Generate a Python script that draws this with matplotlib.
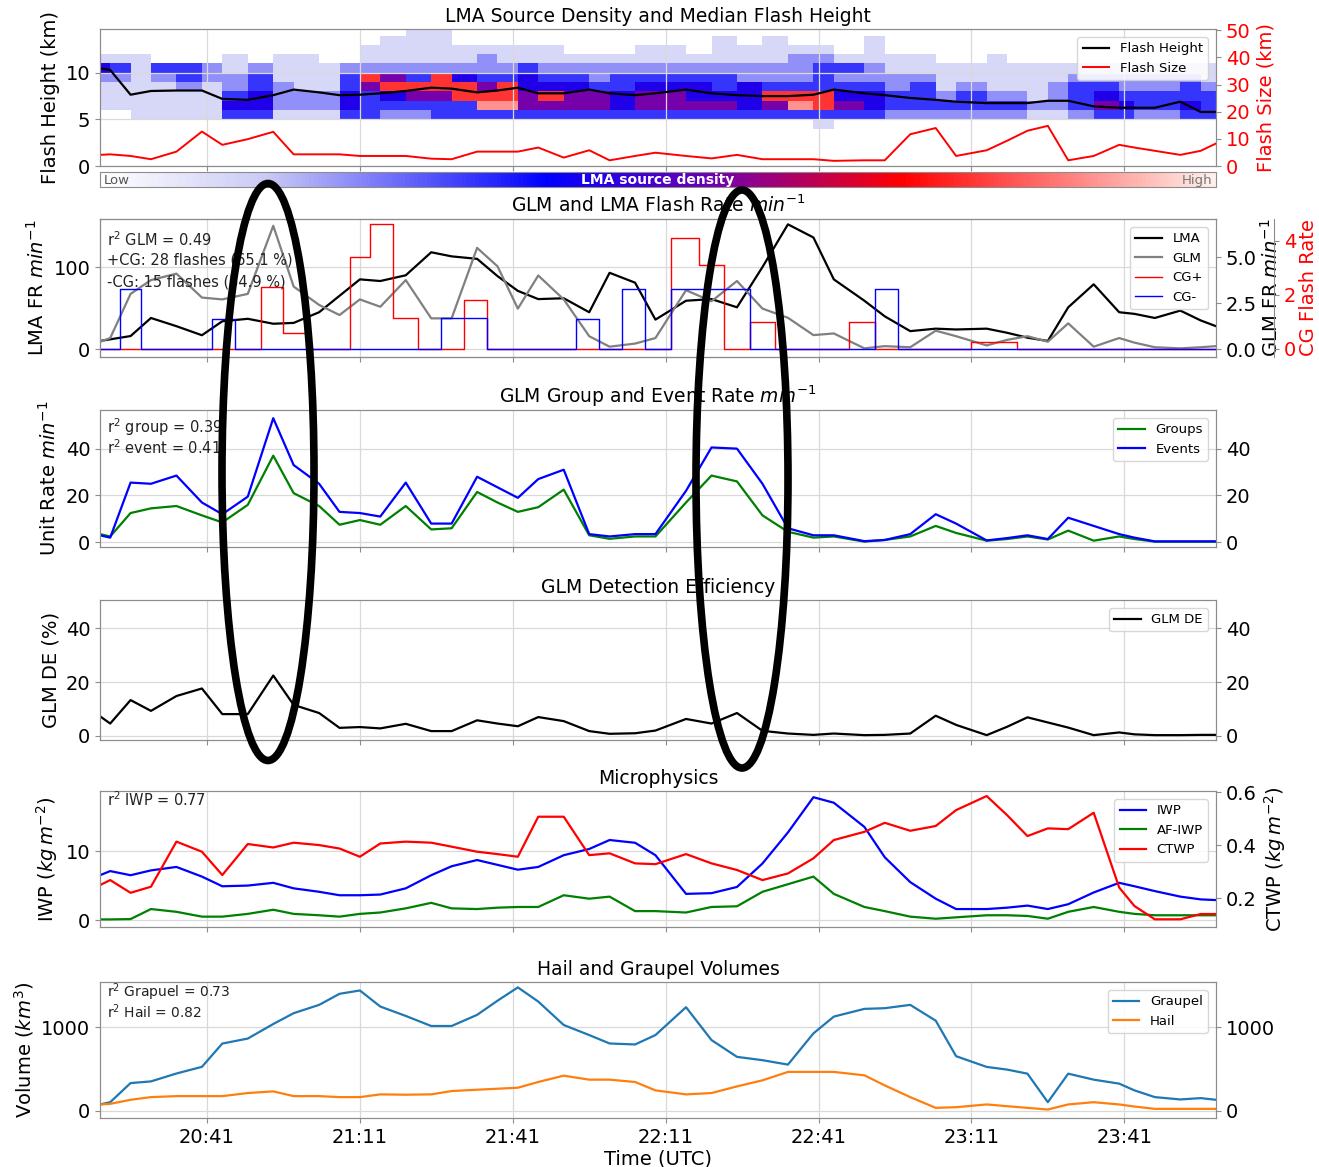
import numpy as np
import matplotlib
matplotlib.use("Agg")
import matplotlib.pyplot as plt
import matplotlib.dates as mdates
from datetime import datetime
from matplotlib.colors import LinearSegmentedColormap
from matplotlib.patches import Ellipse

# radar volume scan times (UTC)
scan_times = ["20:20", "20:22", "20:26", "20:30", "20:35", "20:40", "20:44", "20:49", "20:54", "20:58",
              "21:03", "21:07", "21:11", "21:15", "21:20", "21:25", "21:29", "21:34", "21:38", "21:42",
              "21:46", "21:51", "21:56", "22:00", "22:05", "22:09", "22:15", "22:20", "22:25", "22:30",
              "22:35", "22:40", "22:44", "22:50", "22:54", "22:59", "23:04", "23:08", "23:14", "23:18",
              "23:22", "23:26", "23:30", "23:35", "23:40", "23:43", "23:47", "23:52", "23:56", "23:59"]
tick_times = ["20:41", "21:11", "21:41", "22:11", "22:41", "23:11", "23:41"]

# LMA source density per 1 km layer (top row = 14-15 km), 0 = none ... 9 = highest
height_edges = [4, 5, 6, 7, 8, 9, 10, 11, 12, 13, 14, 15]
density_rows = [
    "0000000000" "0000110000" "0000000000" "0000000000" "000000000",
    "0000000000" "0001110000" "0000000101" "0001000000" "000000000",
    "0000000000" "0011111111" "1000110111" "1101000000" "000000000",
    "1110001011" "0011111211" "1111111111" "2211110010" "000000000",
    "4313321211" "1222222223" "2222222222" "2332111111" "111111111",
    "2212322311" "1375374334" "3323333322" "2322221111" "112222221",
    "1111212321" "1357777574" "4433444343" "3333231211" "123322232",
    "1111113422" "2434557775" "7554554447" "7744332322" "123433333",
    "1111114422" "2433333885" "5554555545" "8754333333" "223543343",
    "0011113311" "1332233333" "3333333333" "3333222222" "112332233",
    "0000000000" "0000000000" "0000000000" "0100000000" "000000000",
]

flash_height = [10.5, 10.3, 7.65, 8.05, 8.1, 8.1, 7.2, 7.1, 7.6, 8.2,
                7.9, 7.6, 7.65, 7.8, 8.05, 8.4, 8.3, 7.9, 8.1, 8.4,
                7.8, 7.8, 8.2, 7.8, 7.6, 7.8, 8.2, 7.8, 7.6, 7.5,
                7.5, 7.65, 8.2, 7.8, 7.6, 7.3, 7.1, 6.9, 6.75, 6.75,
                6.75, 7.0, 7.0, 6.4, 6.25, 6.25, 6.25, 6.9, 5.8, 5.8]
flash_size = [4.1, 4.3, 3.7, 2.5, 5.3, 12.7, 7.8, 9.9, 12.6, 4.3,
              4.3, 4.3, 3.7, 3.7, 3.7, 2.7, 2.5, 5.3, 5.3, 5.3,
              6.8, 3.1, 5.8, 2.1, 3.7, 4.9, 3.7, 2.8, 4.1, 2.5,
              2.5, 2.5, 1.9, 2.1, 2.1, 11.7, 14.0, 3.7, 5.8, 9.3,
              13.0, 14.8, 2.1, 3.7, 7.8, 6.8, 5.6, 4.1, 5.6, 8.3]

lma_rate = [10, 12, 16, 38, 28, 17, 34, 37, 31, 32,
            45, 65, 85, 83, 90, 118, 113, 110, 89, 71,
            61, 62, 45, 93, 81, 36, 59, 61, 51, 100,
            152, 136, 85, 59, 40, 22, 25, 24, 25, 20,
            14, 10, 51, 79, 45, 43, 38, 47, 35, 28]
glm_rate = [0.4, 0.6, 3.0, 3.75, 4.1, 2.8, 2.7, 3.0, 6.7, 3.4,
            2.4, 1.85, 2.7, 2.3, 3.75, 1.67, 1.67, 5.5, 4.5, 2.2,
            4.0, 2.7, 0.7, 0.13, 0.3, 0.6, 3.2, 2.6, 3.7, 2.2,
            1.7, 0.76, 0.85, 0.04, 0.16, 0.1, 1.0, 0.7, 0.2, 0.5,
            0.7, 0.4, 1.4, 0.13, 0.6, 0.35, 0.1, 0.04, 0.1, 0.16]
cg_pos = [0, 0, 0, 0, 0, 0, 0, 0, 2.3, 0.6,
          0, 0, 3.4, 4.6, 1.15, 0, 0, 1.8, 0, 0,
          0, 0, 0, 0, 0, 0, 4.1, 3.1, 0, 1.0,
          0, 0, 0, 1.0, 0, 0, 0, 0, 0.26, 0.26,
          0, 0, 0, 0, 0, 0, 0, 0, 0, 0]
cg_neg = [0, 0, 2.2, 0, 0, 0, 1.1, 0, 0, 0,
          0, 0, 0, 0, 0, 0, 1.15, 1.15, 0, 0,
          0, 0, 1.1, 0, 2.2, 0, 2.2, 2.2, 2.2, 0,
          0, 0, 0, 0, 2.2, 0, 0, 0, 0, 0,
          0, 0, 0, 0, 0, 0, 0, 0, 0, 0]

groups = [3.5, 2.5, 12.5, 14.5, 15.5, 11.5, 8.5, 16, 37, 21,
          15.5, 7.5, 9.5, 7.5, 15.5, 5.5, 6, 21.5, 17, 13,
          15, 22.5, 3, 1.5, 2.5, 2.5, 17, 28.5, 26, 11.5,
          4.5, 2, 2.5, 0.3, 1, 2.5, 7, 4, 0.7, 1.4,
          2.5, 1.2, 5, 0.7, 2.5, 1.4, 0.3, 0.3, 0.3, 0.3]
events = [3, 2, 25.5, 25, 28.5, 17, 12, 19.5, 53, 33,
          25, 13, 12.5, 11, 25.5, 8, 8, 28, 23.5, 19,
          27, 31, 3.5, 2.5, 3.5, 3.5, 22, 40.5, 40, 25,
          6, 3, 3, 0.5, 1, 3.5, 12, 8, 0.8, 1.8,
          3, 1.4, 10.5, 7, 3.5, 2, 0.4, 0.4, 0.4, 0.4]

glm_de = [7.3, 4.6, 13.3, 9.3, 14.8, 17.6, 8.1, 8.1, 22.4, 11.5,
          8.5, 3, 3.3, 2.8, 4.5, 1.8, 1.8, 5.8, 4.6, 3.6,
          7, 5.5, 1.8, 0.8, 1, 2, 6.3, 4.6, 8.5, 1.9,
          0.9, 0.4, 0.9, 0.3, 0.4, 0.9, 7.5, 4.1, 0.3, 3.4,
          6.9, 5, 3.1, 0.3, 1.3, 0.6, 0.3, 0.3, 0.4, 0.4]

iwp = [6.5, 7.1, 6.5, 7.2, 7.7, 6.3, 4.9, 5.0, 5.4, 4.6,
       4.1, 3.6, 3.6, 3.7, 4.6, 6.5, 7.8, 8.7, 8.0, 7.3,
       7.7, 9.4, 10.3, 11.6, 11.2, 9.4, 3.8, 3.9, 4.8, 8.2,
       12.7, 17.8, 17.0, 13.5, 9.1, 5.5, 3.1, 1.6, 1.6, 1.8,
       2.1, 1.6, 2.3, 4.0, 5.4, 4.9, 4.2, 3.4, 3.0, 2.9]
af_iwp = [0.1, 0.1, 0.15, 1.6, 1.2, 0.5, 0.5, 0.9, 1.5, 0.9,
          0.7, 0.5, 0.9, 1.1, 1.7, 2.5, 1.7, 1.6, 1.8, 1.9,
          1.9, 3.6, 3.1, 3.4, 1.3, 1.3, 1.1, 1.9, 2.0, 4.1,
          5.2, 6.3, 3.8, 1.9, 1.3, 0.5, 0.2, 0.4, 0.7, 0.7,
          0.6, 0.2, 1.2, 1.9, 1.2, 0.9, 0.7, 0.7, 0.7, 0.7]
ctwp = [0.249, 0.268, 0.22, 0.243, 0.413, 0.375, 0.287, 0.404, 0.391, 0.409,
        0.40, 0.387, 0.356, 0.406, 0.413, 0.409, 0.394, 0.375, 0.366, 0.356,
        0.507, 0.507, 0.362, 0.369, 0.331, 0.328, 0.366, 0.331, 0.306, 0.268,
        0.293, 0.35, 0.419, 0.45, 0.484, 0.454, 0.472, 0.532, 0.585, 0.513,
        0.434, 0.463, 0.46, 0.522, 0.24, 0.17, 0.12, 0.12, 0.14, 0.14]

graupel = [73, 100, 330, 350, 445, 525, 805, 865, 1040, 1170,
           1270, 1403, 1443, 1250, 1137, 1016, 1016, 1150, 1320, 1480,
           1310, 1028, 907, 806, 794, 907, 1242, 847, 645, 605,
           552, 927, 1129, 1222, 1230, 1270, 1080, 653, 524, 492,
           443, 100, 443, 371, 323, 242, 161, 133, 149, 129]
hail = [73, 80, 129, 161, 173, 173, 173, 210, 230, 173,
        173, 161, 161, 194, 190, 194, 234, 250, 262, 274,
        343, 419, 371, 371, 343, 242, 194, 210, 290, 363,
        464, 464, 464, 423, 302, 161, 32, 40, 73, 52,
        32, 12, 73, 100, 73, 48, 20, 20, 20, 20]


def to_num(hhmm):
    h, m = map(int, hhmm.split(":"))
    return mdates.date2num(datetime(2019, 5, 1, h, m))


t = np.array([to_num(s) for s in scan_times])
ticks = [to_num(s) for s in tick_times]

W, H = 1319, 1167
fig = plt.figure(figsize=(W / 100, H / 100), dpi=100)

SPINE = "#8c8c8c"
GRID = "#d9d9d9"


def panel(top, bottom, last=False):
    ax = fig.add_axes([100 / W, 1 - bottom / H, 1116 / W, (bottom - top) / H])
    ax.set_xlim(t[0], t[-1])
    ax.set_xticks(ticks)
    ax.xaxis.set_major_formatter(mdates.DateFormatter("%H:%M"))
    ax.grid(True, color=GRID, lw=0.9)
    for sp in ax.spines.values():
        sp.set_color(SPINE)
    ax.tick_params(labelsize=14, color=SPINE)
    if not last:
        ax.tick_params(labelbottom=False)
    return ax


def twin(ax):
    axr = ax.twinx()
    for sp in axr.spines.values():
        sp.set_color(SPINE)
    axr.tick_params(labelsize=14, color=SPINE)
    return axr


def legend(ax, handles):
    ax.legend(handles=handles, loc="upper right", fontsize=9.5, framealpha=0.85,
              edgecolor="#d0d0d0", borderaxespad=0.6)


def note(ax, lines, ys, size=10.5):
    for s, y in zip(lines, ys):
        ax.text(0.006, y, s, transform=ax.transAxes, fontsize=size, va="center", ha="left",
                color="#222222", zorder=6)


# --- LMA source density and median flash height
ax1 = panel(29, 166)
cmap = LinearSegmentedColormap.from_list(
    "lma", [(0.0, "white"), (0.15, "#c8c8f5"), (0.4, "blue"), (0.55, "#7000b0"),
            (0.72, "red"), (1.0, "#fff0ea")])
dens = np.array([[int(c) for c in row] for row in density_rows[::-1]], float)
mesh = ax1.pcolormesh(t, height_edges, dens, cmap=cmap, vmin=0, vmax=9, shading="flat")
h1, = ax1.plot(t, flash_height, color="black", lw=1.6, label="Flash Height")
ax1.set_ylim(0, 14.7)
ax1.set_yticks([0, 5, 10])
ax1.set_ylabel("Flash Height (km)", fontsize=14)
ax1.set_title("LMA Source Density and Median Flash Height", fontsize=13.5, pad=5)
ax1r = twin(ax1)
h2, = ax1r.plot(t, flash_size, color="red", lw=1.4, label="Flash Size")
ax1r.set_ylim(0, 50.5)
ax1r.set_yticks([0, 10, 20, 30, 40, 50])
ax1r.tick_params(labelcolor="red")
ax1r.set_ylabel("Flash Size (km)", fontsize=14, color="red")
legend(ax1r, [h1, h2])

cax = fig.add_axes([100 / W, 1 - 187 / H, 1116 / W, 15 / H])
cb = fig.colorbar(mesh, cax=cax, orientation="horizontal")
cb.set_ticks([])
cb.outline.set_edgecolor(SPINE)
cax.text(0.003, 0.45, "Low", transform=cax.transAxes, fontsize=9.5, ha="left", va="center", color="#555555")
cax.text(0.5, 0.45, "LMA source density", transform=cax.transAxes, fontsize=10, ha="center",
         va="center", color="white", fontweight="bold")
cax.text(0.997, 0.45, "High", transform=cax.transAxes, fontsize=9.5, ha="right", va="center", color="#777777")

# --- GLM and LMA flash rate
ax2 = panel(219, 357)
l1, = ax2.plot(t, lma_rate, color="black", lw=1.6, label="LMA")
ax2.set_ylim(-9.5, 158.5)
ax2.set_yticks([0, 100])
ax2.set_ylabel("LMA FR $min^{-1}$", fontsize=14)
ax2.set_title("GLM and LMA Flash Rate $min^{-1}$", fontsize=13.5, pad=5)
ax2g = twin(ax2)
l2, = ax2g.plot(t, glm_rate, color="gray", lw=1.6, label="GLM")
ax2g.set_ylim(-0.43, 7.07)
ax2g.set_yticks([0, 2.5, 5.0])
ax2g.set_ylabel("GLM FR $min^{-1}$", fontsize=14, labelpad=2)
ax2c = twin(ax2)
ax2c.spines["right"].set_position(("outward", 42))
l3, = ax2c.step(t, cg_pos, where="mid", color="red", lw=1.0, label="CG+")
l4, = ax2c.step(t, cg_neg, where="mid", color="blue", lw=1.0, label="CG-")
ax2c.set_ylim(-0.3, 4.8)
ax2c.set_yticks([0, 2, 4])
ax2c.tick_params(labelcolor="red")
ax2c.set_ylabel("CG Flash Rate", fontsize=14, color="red", labelpad=2)
legend(ax2c, [l1, l2, l3, l4])
note(ax2c, ["r$^2$ GLM = 0.49", "+CG: 28 flashes (65.1 %)", "-CG: 15 flashes (34.9 %)"],
     [0.848, 0.703, 0.543])

# --- GLM group and event rate
ax3 = panel(410, 547)
g1, = ax3.plot(t, groups, color="green", lw=1.6, label="Groups")
g2, = ax3.plot(t, events, color="blue", lw=1.6, label="Events")
ax3.set_ylim(-2, 56.5)
ax3.set_yticks([0, 20, 40])
ax3.set_ylabel("Unit Rate $min^{-1}$", fontsize=14)
ax3.set_title("GLM Group and Event Rate $min^{-1}$", fontsize=13.5, pad=5)
ax3r = twin(ax3)
ax3r.set_ylim(ax3.get_ylim())
ax3r.set_yticks([0, 20, 40])
legend(ax3r, [g1, g2])
note(ax3r, ["r$^2$ group = 0.39", "r$^2$ event = 0.41"], [0.876, 0.723])

# --- GLM detection efficiency
ax4 = panel(600, 740)
d1, = ax4.plot(t, glm_de, color="black", lw=1.6, label="GLM DE")
ax4.set_ylim(-1.5, 50.4)
ax4.set_yticks([0, 20, 40])
ax4.set_ylabel("GLM DE (%)", fontsize=14)
ax4.set_title("GLM Detection Efficiency", fontsize=13.5, pad=5)
ax4r = twin(ax4)
ax4r.set_ylim(ax4.get_ylim())
ax4r.set_yticks([0, 20, 40])
legend(ax4r, [d1])

# --- Microphysics
ax5 = panel(791, 927)
m1, = ax5.plot(t, iwp, color="blue", lw=1.6, label="IWP")
m2, = ax5.plot(t, af_iwp, color="green", lw=1.6, label="AF-IWP")
ax5.set_ylim(-1.0, 18.7)
ax5.set_yticks([0, 10])
ax5.set_ylabel("IWP $(kg\\,m^{-2})$", fontsize=14)
ax5.set_title("Microphysics", fontsize=13.5, pad=5)
ax5r = twin(ax5)
m3, = ax5r.plot(t, ctwp, color="red", lw=1.6, label="CTWP")
ax5r.set_ylim(0.091, 0.604)
ax5r.set_yticks([0.2, 0.4, 0.6])
ax5r.set_ylabel("CTWP $(kg\\,m^{-2})$", fontsize=14)
legend(ax5r, [m1, m2, m3])
note(ax5r, ["r$^2$ IWP = 0.77"], [0.934])

# --- Hail and graupel volumes
ax6 = panel(982, 1118, last=True)
v1, = ax6.plot(t, graupel, color="#1f77b4", lw=1.6, label="Graupel")
v2, = ax6.plot(t, hail, color="#ff7f0e", lw=1.6, label="Hail")
ax6.set_ylim(-90, 1545)
ax6.set_yticks([0, 1000])
ax6.set_ylabel("Volume $(km^3)$", fontsize=14)
ax6.set_xlabel("Time (UTC)", fontsize=14, labelpad=2)
ax6.set_title("Hail and Graupel Volumes", fontsize=13.5, pad=5)
ax6r = twin(ax6)
ax6r.set_ylim(ax6.get_ylim())
ax6r.set_yticks([0, 1000])
legend(ax6r, [v1, v2])
note(ax6r, ["r$^2$ Grapuel = 0.73", "r$^2$ Hail = 0.82"], [0.925, 0.78], size=10)

# highlighted intervals
for cx, cy, h in [(268, 472, 577), (742, 479, 578)]:
    fig.add_artist(Ellipse((cx / W, 1 - cy / H), 92 / W, h / H, transform=fig.transFigure,
                           fill=False, ec="black", lw=5.5, zorder=20))

fig.savefig("out.png", dpi=100)
